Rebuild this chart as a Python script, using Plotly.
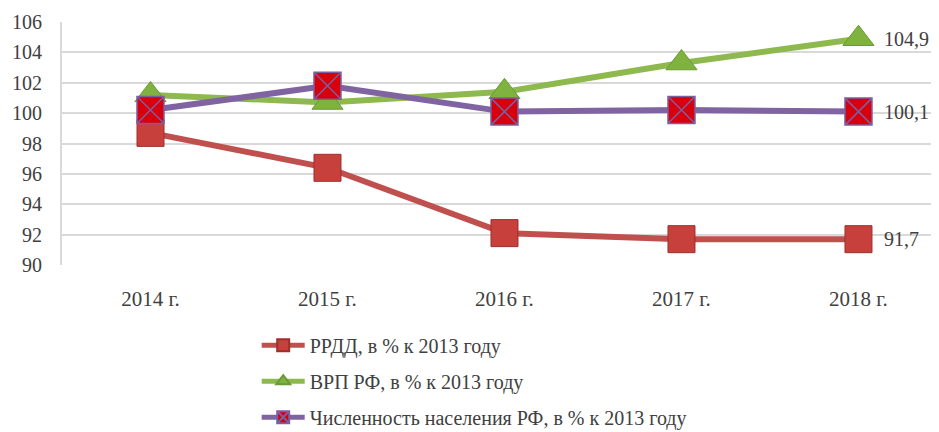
import plotly.graph_objects as go

categories = ["2014 г.", "2015 г.", "2016 г.", "2017 г.", "2018 г."]
rrdd = [98.7, 96.4, 92.1, 91.7, 91.7]
vrp = [101.2, 100.7, 101.4, 103.3, 104.9]
population = [100.2, 101.8, 100.1, 100.2, 100.1]
series_names = [
    "РРДД, в % к 2013 году",
    "ВРП РФ, в % к 2013 году",
    "Численность населения РФ, в % к 2013 году",
]
y_ticks = [90, 92, 94, 96, 98, 100, 102, 104, 106]

FONT = "Liberation Serif"
TXT = "#404040"

fig = go.Figure()
fig.add_trace(go.Scatter(
    x=categories, y=rrdd, name=series_names[0], mode="lines+markers",
    line=dict(color="#C0504D", width=6),
    marker=dict(symbol="square", size=27, color="#C8403C",
                line=dict(color="#9E2F2C", width=1)),
    legendgroup="a",
))
fig.add_trace(go.Scatter(
    x=categories, y=vrp, name=series_names[1], mode="lines+markers",
    line=dict(color="#8DB94E", width=6),
    marker=dict(symbol="triangle-up", size=27, color="#7FB23E",
                line=dict(color="#6A9A35", width=1)),
    legendgroup="b",
))
fig.add_trace(go.Scatter(
    x=categories, y=population, name=series_names[2], mode="lines+markers",
    line=dict(color="#8064A2", width=6),
    marker=dict(symbol="square-x", size=27, color="#D8000C",
                line=dict(color="#7B5FA0", width=1.5)),
    legendgroup="c",
))

for vals in (vrp, population, rrdd):
    fig.add_annotation(
        x=categories[-1], y=vals[-1], text=f"{vals[-1]:.1f}".replace(".", ","),
        xanchor="left", yanchor="middle", xshift=24, showarrow=False,
        font=dict(family=FONT, size=20, color=TXT),
    )

fig.update_layout(
    width=931, height=424,
    margin=dict(l=54, r=0, t=14, b=167, autoexpand=False),
    paper_bgcolor="white", plot_bgcolor="white",
    font=dict(family=FONT, size=20, color=TXT),
    showlegend=True,
    legend=dict(
        orientation="v", x=0.222, xanchor="left", y=-0.25, yanchor="top",
        font=dict(family=FONT, size=20, color=TXT),
        tracegroupgap=7, bgcolor="rgba(0,0,0,0)",
        itemsizing="constant", itemwidth=43,
    ),
)
fig.update_xaxes(
    type="category", range=[-0.5, 4.455], automargin=False,
    showgrid=False, showline=False, zeroline=False,
    ticks="", ticklabelstandoff=19,
    tickfont=dict(family=FONT, size=21, color=TXT),
)
fig.update_yaxes(
    range=[90, 106], tickvals=y_ticks, automargin=False,
    showgrid=True, gridcolor="#D9D9D9", gridwidth=2,
    showline=True, linecolor="#D9D9D9", linewidth=2,
    zeroline=False, ticks="", ticklabelstandoff=14,
    tickfont=dict(family=FONT, size=20, color=TXT),
)

fig.write_html("out.html")
